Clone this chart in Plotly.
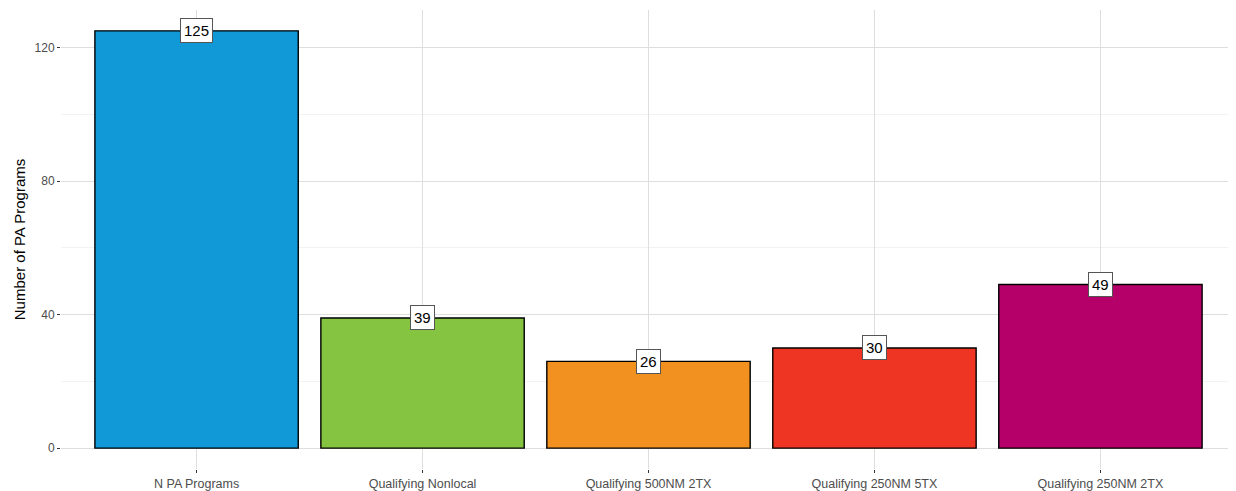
import plotly.graph_objects as go

categories = ["N PA Programs", "Qualifying Nonlocal", "Qualifying 500NM 2TX",
              "Qualifying 250NM 5TX", "Qualifying 250NM 2TX"]
values = [125, 39, 26, 30, 49]
colors = ["#1198D6", "#84C441", "#F29120", "#EE3524", "#B5006A"]

fig = go.Figure()
fig.add_trace(go.Bar(
    x=categories, y=values, width=0.9,
    marker=dict(color=colors, line=dict(color="black", width=1.4)),
    hoverinfo="skip", showlegend=False,
))

for c, v in zip(categories, values):
    fig.add_annotation(
        x=c, y=v, text=str(v), showarrow=False,
        xanchor="center", yanchor="middle",
        font=dict(family="Liberation Sans, Arial", size=15, color="black"),
        bgcolor="white", bordercolor="#555555", borderwidth=1, borderpad=3,
    )

# page body has an 8px margin, so the figure is sized to fit the 1236x491 window
fig.update_layout(
    width=1228, height=483,
    margin=dict(l=53, r=0, t=2, b=22),
    paper_bgcolor="white", plot_bgcolor="white",
    font=dict(family="Liberation Sans, Arial", color="#4D4D4D", size=12),
    bargap=0.1,
)
fig.update_xaxes(
    range=[-0.6, 4.6], showgrid=True, gridcolor="#DEDEDE", gridwidth=1.2,
    ticks="outside", ticklen=3, tickcolor="#333333", tickwidth=1.2,
    tickfont=dict(size=12.5, color="#4D4D4D"), zeroline=False, showline=False,
)
fig.update_yaxes(
    range=[-6.25, 131.25], tickvals=[0, 40, 80, 120],
    showgrid=True, gridcolor="#DEDEDE", gridwidth=1.2,
    minor=dict(dtick=20, tick0=0, showgrid=True, gridcolor="#F2F2F2", gridwidth=1),
    ticks="outside", ticklen=3, tickcolor="#333333", tickwidth=1.2,
    tickfont=dict(size=12, color="#4D4D4D"), zeroline=False, showline=False,
    title=dict(text="Number of PA Programs", font=dict(size=15, color="black"), standoff=5),
)

fig.write_html("out.html")
